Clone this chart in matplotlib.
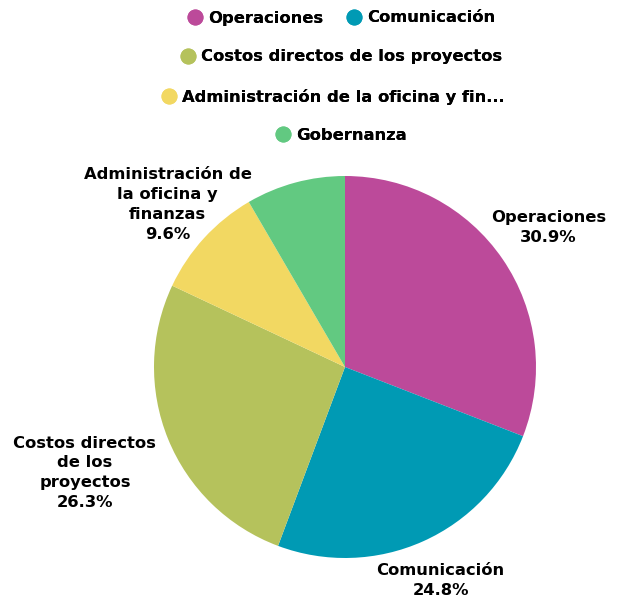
import numpy as np
import matplotlib.pyplot as plt
from matplotlib.lines import Line2D

categories = ['Operaciones', 'Comunicación', 'Costos directos de los proyectos',
              'Administración de la oficina y finanzas', 'Gobernanza']
values = [30.9, 24.8, 26.3, 9.6, 8.4]
slice_labels = ['Operaciones', 'Comunicación', 'Costos directos\nde los\nproyectos',
                'Administración de\nla oficina y\nfinanzas', None]
legend_labels = ['Operaciones', 'Comunicación', 'Costos directos de los proyectos',
                 'Administración de la oficina y fin...', 'Gobernanza']
colors = ['#BC4A9A', '#009AB4', '#B5C25C', '#F2D862', '#62C981']

plt.rcParams['font.family'] = ['DejaVu Sans']
W, H = 617, 597
fig = plt.figure(figsize=(W / 100, H / 100), dpi=100)

# pie centre and radius in pixels
cx, cy, r = 345, 367, 191
ax = fig.add_axes([(cx - r) / W, (H - cy - r) / H, 2 * r / W, 2 * r / H])
wedges, _ = ax.pie(values, colors=colors, startangle=90, counterclock=False,
                   radius=1, wedgeprops=dict(linewidth=0))
ax.set_xlim(-1, 1)
ax.set_ylim(-1, 1)
ax.set_aspect('equal')
ax.axis('off')

# slice labels outside the pie
label_dist = [1.29, 1.225, 1.47, 1.26, 1.25]
for i, w in enumerate(wedges):
    if slice_labels[i] is None:
        continue
    ang = np.deg2rad((w.theta1 + w.theta2) / 2)
    d = label_dist[i]
    ax.text(d * np.cos(ang), d * np.sin(ang), f'{slice_labels[i]}\n{values[i]}%',
            ha='center', va='center', fontsize=11.8, fontweight='bold',
            linespacing=1.4, clip_on=False)

# legend rows
def handle(c):
    return Line2D([], [], marker='o', linestyle='none', markersize=10.5,
                  markerfacecolor=c, markeredgecolor=c)

rows = [[0, 1], [2], [3], [4]]
row_y = [18, 57, 97, 135]
row_x = [341, 341, 333, 341]
for idx, y, x in zip(rows, row_y, row_x):
    leg = fig.legend([handle(colors[i]) for i in idx], [legend_labels[i] for i in idx],
                     loc='center', bbox_to_anchor=(x / W, 1 - y / H), ncol=len(idx),
                     frameon=False, handletextpad=0.3, columnspacing=1.4,
                     handlelength=1.0, borderpad=0,
                     prop=dict(size=11.8, weight='bold'))
    fig.add_artist(leg)

fig.savefig('out.png', dpi=100)
